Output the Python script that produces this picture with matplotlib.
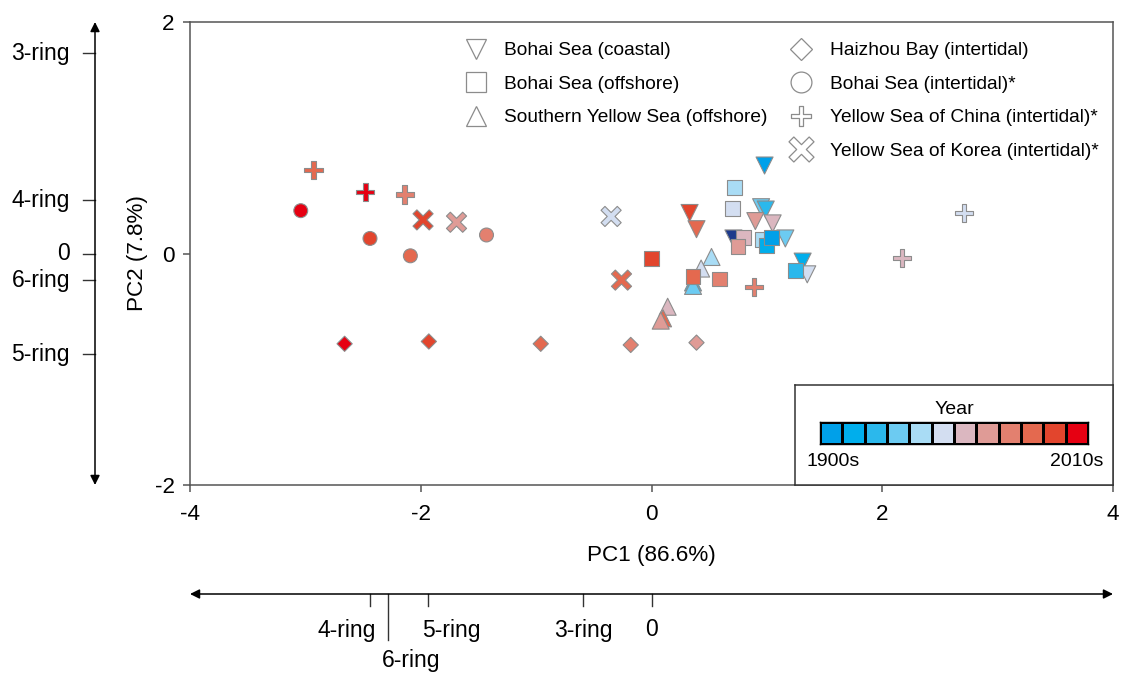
import numpy as np
import matplotlib
matplotlib.use("Agg")
import matplotlib.pyplot as plt
import matplotlib.transforms as mtransforms
from matplotlib.path import Path
from matplotlib.lines import Line2D
from matplotlib.colors import ListedColormap

plt.rcParams['font.family'] = ['Liberation Sans', 'DejaVu Sans']
plt.rcParams['axes.unicode_minus'] = False

# ---- decade colour scale (1900s -> 2010s) ----
decade_colors = ['#00a0e9', '#00aeec', '#2bb8ec', '#6ccbf2', '#a9dcf5', '#d3def1',
                 '#dbb7c0', '#df9b96', '#e3806f', '#e4694f', '#e2452d', '#e60012']
decade_labels = ['1900s', '2010s']
undated_color = '#1d3a8c'   # decade index -1

# ---- PCA scores per sample group ----
coastal_pc1 = [0.98, 0.95, 0.99, 0.90, 1.05, 0.71, 1.16, 1.31, 1.35, 0.33, 0.39]
coastal_pc2 = [0.76, 0.40, 0.38, 0.28, 0.26, 0.13, 0.13, -0.07, -0.18, 0.35, 0.21]
coastal_dec = [0, 3, 2, 7, 6, -1, 3, 1, 5, 10, 9]

syellow_pc1 = [0.52, 0.43, 0.36, 0.36, 0.14, 0.10, 0.08]
syellow_pc2 = [-0.03, -0.13, -0.25, -0.28, -0.46, -0.56, -0.58]
syellow_dec = [4, 5, 2, 3, 6, 9, 7]

offshore_pc1 = [0.72, 0.70, 0.80, 0.75, 0.96, 1.00, 1.04, 1.25, 0.00, 0.36, 0.59]
offshore_pc2 = [0.57, 0.39, 0.14, 0.06, 0.12, 0.07, 0.14, -0.15, -0.04, -0.20, -0.22]
offshore_dec = [4, 5, 6, 7, 4, 1, 0, 2, 10, 9, 8]

haizhou_pc1 = [-2.66, -1.93, -0.96, -0.18, 0.39]
haizhou_pc2 = [-0.78, -0.76, -0.78, -0.79, -0.77]
haizhou_dec = [11, 10, 9, 8, 7]

bohai_int_pc1 = [-3.04, -2.44, -2.09, -1.43]
bohai_int_pc2 = [0.37, 0.13, -0.02, 0.16]
bohai_int_dec = [11, 10, 9, 8]

china_int_pc1 = [-2.93, -2.48, -2.14, 0.89, 2.17, 2.71]
china_int_pc2 = [0.72, 0.53, 0.51, -0.29, -0.04, 0.35]
china_int_dec = [9, 11, 8, 8, 6, 5]

korea_int_pc1 = [-1.98, -1.69, -0.35, -0.26]
korea_int_pc2 = [0.29, 0.27, 0.32, -0.23]
korea_int_dec = [10, 7, 5, 9]

group_labels = ['Bohai Sea (coastal)', 'Bohai Sea (offshore)', 'Southern Yellow Sea (offshore)',
                'Haizhou Bay (intertidal)', 'Bohai Sea (intertidal)*',
                'Yellow Sea of China (intertidal)*', 'Yellow Sea of Korea (intertidal)*']

# ---- ring-number loadings projected on the PC axes ----
ring_names_pc1 = ['4-ring', '6-ring', '5-ring', '3-ring', '0']
ring_load_pc1 = [-2.44, -2.28, -1.94, -0.59, 0.0]
ring_names_pc2 = ['3-ring', '4-ring', '0', '6-ring', '5-ring']
ring_load_pc2 = [1.73, 0.46, 0.0, -0.23, -0.87]

FS_AXIS = 16.2
FS_RING = 16.5
FS_LEG = 13.8
FS_KEY = 14.0


def thin_plus(w=0.12):
    v = [(-w, 0.5), (w, 0.5), (w, w), (0.5, w), (0.5, -w), (w, -w), (w, -0.5),
         (-w, -0.5), (-w, -w), (-0.5, -w), (-0.5, w), (-w, w), (-w, 0.5)]
    return Path(v, closed=True)


def thin_cross(w=0.12):
    return thin_plus(w).transformed(mtransforms.Affine2D().rotate_deg(45))


PLUS = thin_plus()
CROSS = thin_cross()


def colors_of(dec):
    return [decade_colors[d] if d >= 0 else undated_color for d in dec]


W, H = 1121, 673
fig = plt.figure(figsize=(W / 100, H / 100), dpi=100)
ax = fig.add_axes([190 / W, 1 - 485 / H, 923 / W, 463 / H])

edge = '#8c8c8c'
groups = [
    (coastal_pc1, coastal_pc2, coastal_dec, 'v', 150),
    (syellow_pc1, syellow_pc2, syellow_dec, '^', 150),
    (offshore_pc1, offshore_pc2, offshore_dec, 's', 115),
    (haizhou_pc1, haizhou_pc2, haizhou_dec, 'D', 60),
    (bohai_int_pc1, bohai_int_pc2, bohai_int_dec, 'o', 100),
    (china_int_pc1, china_int_pc2, china_int_dec, PLUS, 170),
    (korea_int_pc1, korea_int_pc2, korea_int_dec, CROSS, 210),
]
for x, y, d, m, s in groups:
    ax.scatter(x, y, marker=m, s=s, c=colors_of(d), edgecolors=edge, linewidths=0.8, zorder=3)

ax.set_xlim(-4, 4)
ax.set_ylim(-2, 2)
ax.set_xticks([-4, -2, 0, 2, 4])
ax.set_yticks([-2, 0, 2])
spine_c = '#555555'
for sp in ax.spines.values():
    sp.set_color(spine_c)
    sp.set_linewidth(1.1)
ax.tick_params(colors=spine_c, labelcolor='black', length=5, width=1.1, labelsize=FS_AXIS, pad=6)
ax.tick_params(axis='x', pad=9)

ax.set_xlabel('PC1 (86.6%)', fontsize=FS_AXIS)
ax.set_ylabel('PC2 (7.8%)', fontsize=FS_AXIS)
ax.xaxis.set_label_coords(0.5, -0.13)
ax.yaxis.set_label_coords(-0.045, 0.5)

# ---- legend (open symbols) ----
lk = dict(linestyle='none', markerfacecolor='white', markeredgecolor='#8c8c8c', markeredgewidth=0.9)
handles = [
    Line2D([], [], marker='v', markersize=15, **lk),
    Line2D([], [], marker='s', markersize=15, **lk),
    Line2D([], [], marker='^', markersize=15, **lk),
    Line2D([], [], linestyle='none'),
    Line2D([], [], marker='D', markersize=11, **lk),
    Line2D([], [], marker='o', markersize=15, **lk),
    Line2D([], [], marker=PLUS, markersize=15, **lk),
    Line2D([], [], marker=CROSS, markersize=18, **lk),
]
labels = group_labels[:3] + [''] + group_labels[3:]
ax.legend(handles, labels, ncol=2, frameon=False, fontsize=FS_LEG,
          loc='upper left', bbox_to_anchor=(464 / W, 1 - 42 / H), bbox_transform=fig.transFigure,
          borderpad=0, borderaxespad=0, handlelength=1.2, handletextpad=0.9,
          columnspacing=1.15, labelspacing=0.84)

# ---- loading axis along PC1 (below) ----
blend_x = mtransforms.blended_transform_factory(ax.transData, ax.transAxes)
y_arrow = -(594 - 485) / 463
ax.annotate('', xy=(4, y_arrow), xytext=(-4, y_arrow), xycoords=blend_x, textcoords=blend_x,
            arrowprops=dict(arrowstyle='<|-|>', color='black', lw=1.1, mutation_scale=14,
                            shrinkA=0, shrinkB=0), annotation_clip=False)
short_t = 12 / 463
long_t = 46 / 463
for name, v in zip(ring_names_pc1, ring_load_pc1):
    tl = long_t if name == '6-ring' else short_t
    ax.plot([v, v], [y_arrow, y_arrow - tl], transform=blend_x, color='#333333', lw=1.0, clip_on=False)
    if name == '4-ring':
        ax.text(v + 0.05, y_arrow - 36 / 463, name, transform=blend_x, ha='right', va='center', fontsize=FS_RING)
    elif name == '5-ring':
        ax.text(v - 0.05, y_arrow - 36 / 463, name, transform=blend_x, ha='left', va='center', fontsize=FS_RING)
    elif name == '6-ring':
        ax.text(v + 0.2, y_arrow - 66 / 463, name, transform=blend_x, ha='center', va='center', fontsize=FS_RING)
    else:
        ax.text(v, y_arrow - 36 / 463, name, transform=blend_x, ha='center', va='center', fontsize=FS_RING)

# ---- loading axis along PC2 (left) ----
blend_y = mtransforms.blended_transform_factory(ax.transAxes, ax.transData)
x_arrow = -(190 - 95) / 923
ax.annotate('', xy=(x_arrow, 2), xytext=(x_arrow, -2), xycoords=blend_y, textcoords=blend_y,
            arrowprops=dict(arrowstyle='<|-|>', color='black', lw=1.1, mutation_scale=14,
                            shrinkA=0, shrinkB=0), annotation_clip=False)
for name, v in zip(ring_names_pc2, ring_load_pc2):
    ax.plot([x_arrow, x_arrow - 12 / 923], [v, v], transform=blend_y, color='#333333', lw=1.0, clip_on=False)
    ax.text(x_arrow - 25 / 923, v, name, transform=blend_y, ha='right', va='center', fontsize=FS_RING)

# ---- decade colour key ----
kbox = fig.add_axes([795 / W, 1 - 485 / H, 318 / W, 100 / H], zorder=5)
kbox.set_xticks([])
kbox.set_yticks([])
for sp in kbox.spines.values():
    sp.set_color('#333333')
    sp.set_linewidth(1.1)
kbox.text(0.5, 0.755, 'Year', ha='center', va='center', fontsize=FS_KEY, transform=kbox.transAxes)
kbox.text(0.037, 0.24, decade_labels[0], ha='left', va='center', fontsize=FS_KEY, transform=kbox.transAxes)
kbox.text(0.97, 0.24, decade_labels[1], ha='right', va='center', fontsize=FS_KEY, transform=kbox.transAxes)

kcells = fig.add_axes([820 / W, 1 - 444 / H, 268 / W, 22 / H], zorder=6)
kcells.pcolormesh(np.arange(len(decade_colors)).reshape(1, -1), cmap=ListedColormap(decade_colors),
                  edgecolors='black', linewidth=0.8)
kcells.set_xticks([])
kcells.set_yticks([])
for sp in kcells.spines.values():
    sp.set_color('black')
    sp.set_linewidth(1.0)

fig.savefig('out.png', dpi=100)
